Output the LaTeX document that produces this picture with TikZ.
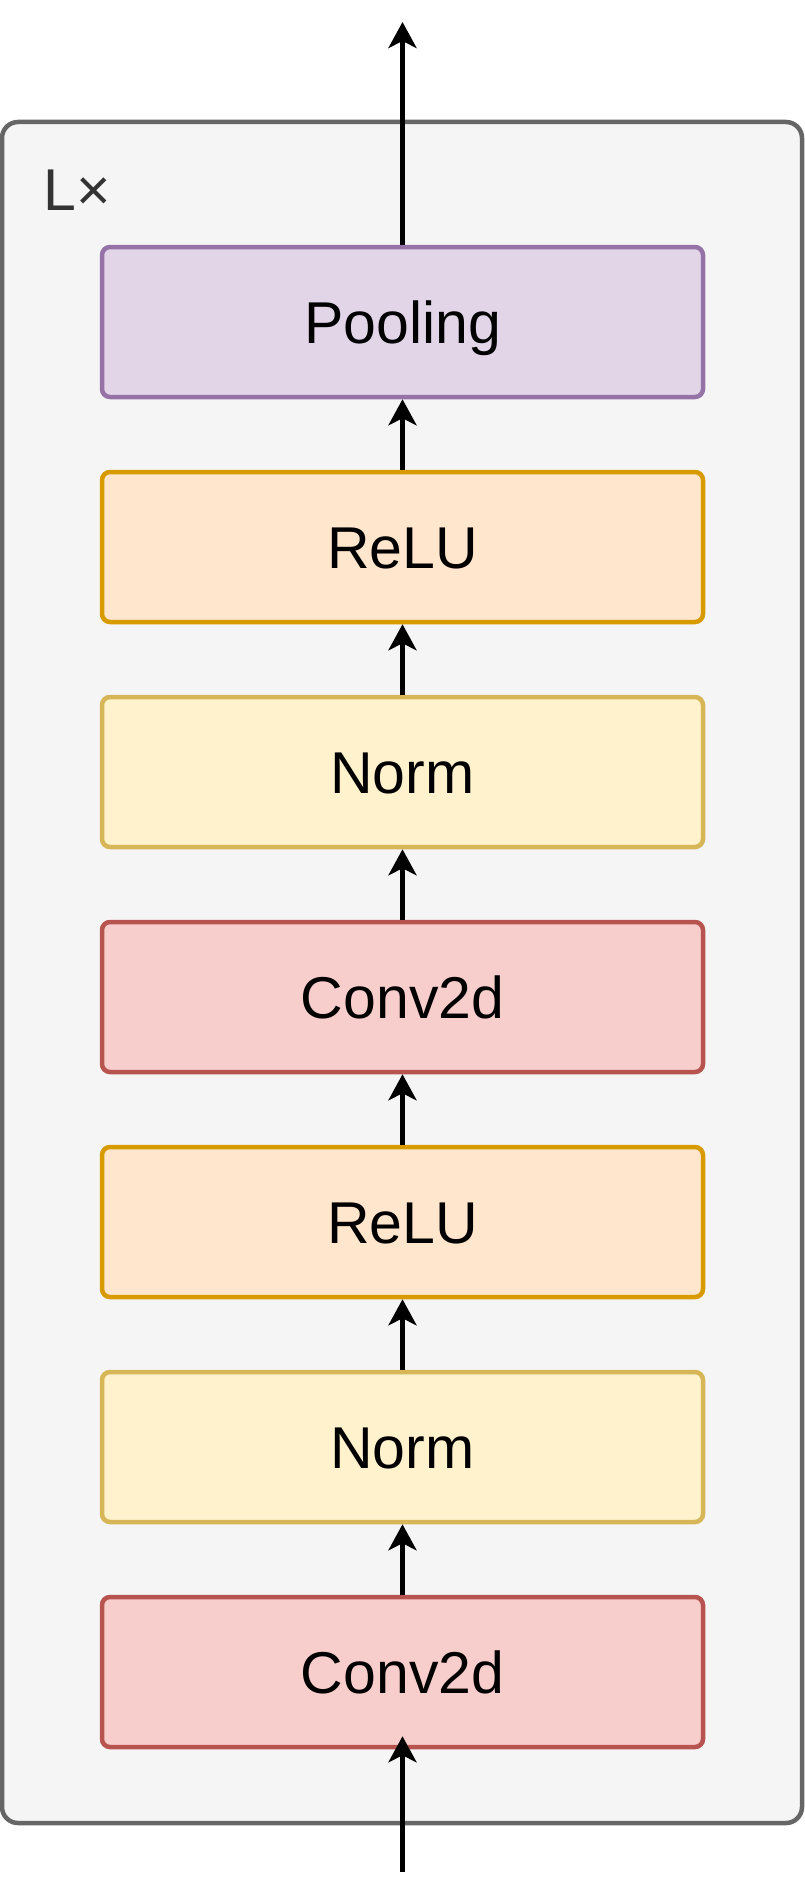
\documentclass[tikz,border=0pt]{standalone}
\usepackage{fontspec}
\setmainfont{Liberation Sans}
\usetikzlibrary{arrows.meta}

\definecolor{outfill}{HTML}{F5F5F5}
\definecolor{outline}{HTML}{666666}
\definecolor{outtext}{HTML}{333333}
\definecolor{poolfill}{HTML}{E1D5E7}
\definecolor{pooldraw}{HTML}{9673A6}
\definecolor{relufill}{HTML}{FFE6CC}
\definecolor{reludraw}{HTML}{D79B00}
\definecolor{normfill}{HTML}{FFF2CC}
\definecolor{normdraw}{HTML}{D6B656}
\definecolor{convfill}{HTML}{F8CECC}
\definecolor{convdraw}{HTML}{B85450}

\begin{document}
\begin{tikzpicture}[
  x=1pt, y=-1pt, font=\fontsize{59}{70}\selectfont,
  layer/.style = {draw, line width=4.5pt, rounded corners=8pt,
                  minimum width=601pt, minimum height=150pt,
                  text height=43pt, text depth=0pt, inner sep=0pt},
  pool/.style  = {layer, fill=poolfill, draw=pooldraw},
  relu/.style  = {layer, fill=relufill, draw=reludraw},
  norm/.style  = {layer, fill=normfill, draw=normdraw},
  conv/.style  = {layer, fill=convfill, draw=convdraw},
  ar/.style    = {-{Stealth[length=26pt,width=28pt,inset=7pt]},
                  line width=5pt, draw=black},
]
  \useasboundingbox (0,0) rectangle (805,1900);

  % ---- repeated block ---------------------------------------
  \node[draw=outline, fill=outfill, line width=4.5pt, rounded corners=16pt,
        minimum width=800pt, minimum height=1701pt, inner sep=0pt]
        (blk) at (402, 972.5) {};
  \node[text=outtext, anchor=base west, inner sep=0pt] (rep) at (43, 210) {L×};

  % ---- layers, bottom to top --------------------------------
  \node[conv] (c1) at (402.5, 1672) {Conv2d};
  \node[norm] (n1) at (402.5, 1447) {Norm};
  \node[relu] (r1) at (402.5, 1222) {ReLU};
  \node[conv] (c2) at (402.5,  997) {Conv2d};
  \node[norm] (n2) at (402.5,  772) {Norm};
  \node[relu] (r2) at (402.5,  547) {ReLU};
  \node[pool] (pl) at (402.5,  322) {Pooling};

  % ---- in / out ---------------------------------------------
  \coordinate (in)  at (402.5, 1872);
  \coordinate (out) at (402.5,   22);

  % ---- arrows -----------------------------------------------
  \draw[ar] (in) -- ([yshift=13pt]c1.south);
  \draw[ar] (c1) -- (n1);
  \draw[ar] (n1) -- (r1);
  \draw[ar] (r1) -- (c2);
  \draw[ar] (c2) -- (n2);
  \draw[ar] (n2) -- (r2);
  \draw[ar] (r2) -- (pl);
  \draw[ar] (pl) -- (out);

\end{tikzpicture}
\end{document}
